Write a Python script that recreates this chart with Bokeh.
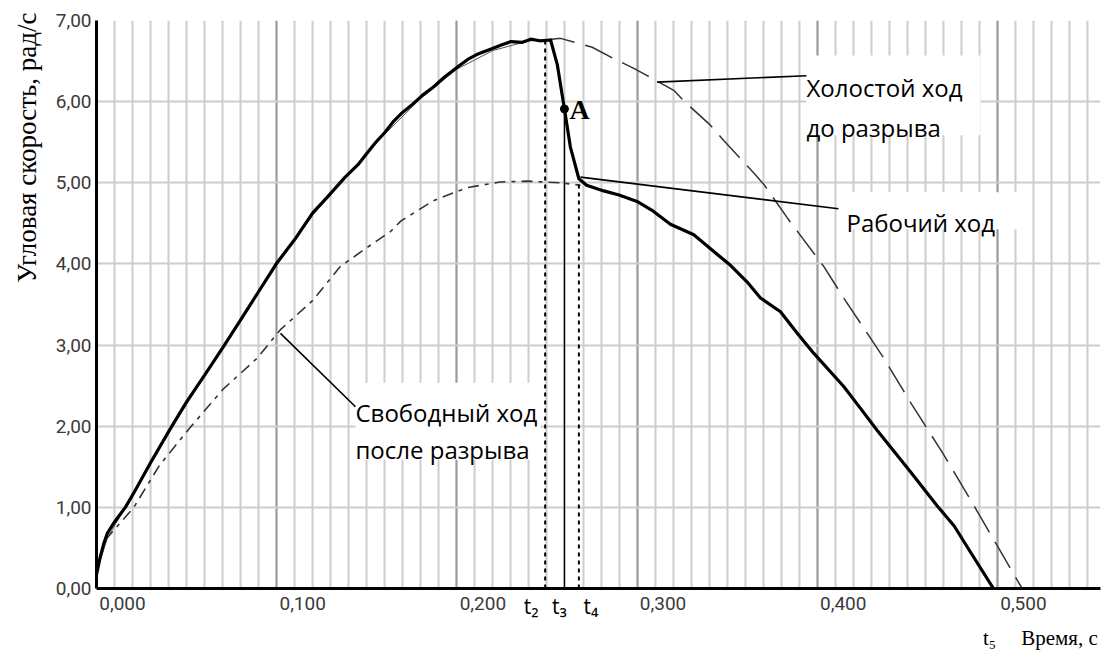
from bokeh.plotting import figure
from bokeh.models import FixedTicker, Label, BoxAnnotation, Range1d, LinearAxis, Title
from bokeh.embed import file_html
from bokeh.resources import INLINE

# ---------------- data ----------------
# Рабочий ход (working stroke), time s -> angular velocity rad/s
work_t = [0.000, 0.002, 0.004, 0.006, 0.010, 0.016, 0.021, 0.030, 0.041, 0.050,
          0.060, 0.071, 0.080, 0.090, 0.100, 0.110, 0.120, 0.128, 0.138, 0.145,
          0.150, 0.155, 0.160, 0.165, 0.169, 0.175, 0.181, 0.187, 0.193, 0.200,
          0.206, 0.211, 0.219, 0.225, 0.230, 0.236, 0.241, 0.246, 0.252, 0.2557,
          0.2597, 0.263, 0.2677, 0.272, 0.2815, 0.290, 0.300, 0.309, 0.3185, 0.3315,
          0.3444, 0.352, 0.361, 0.3685, 0.3796, 0.3888, 0.398, 0.4147, 0.424, 0.4332,
          0.443, 0.4517, 0.4665, 0.476, 0.485, 0.4978]
work_w = [0.17, 0.38, 0.55, 0.68, 0.82, 1.00, 1.19, 1.55, 1.97, 2.30,
          2.63, 3.00, 3.31, 3.66, 4.01, 4.30, 4.63, 4.82, 5.07, 5.22,
          5.36, 5.50, 5.62, 5.76, 5.85, 5.96, 6.08, 6.18, 6.30, 6.42,
          6.52, 6.58, 6.65, 6.70, 6.74, 6.73, 6.77, 6.75, 6.76, 6.46,
          5.91, 5.44, 5.05, 4.97, 4.90, 4.85, 4.77, 4.65, 4.49, 4.36,
          4.12, 3.98, 3.78, 3.58, 3.41, 3.15, 2.90, 2.49, 2.22, 1.95,
          1.68, 1.44, 1.02, 0.77, 0.45, 0.00]

# Холостой ход до разрыва (idle run)
idle_t = [0.000, 0.006, 0.020, 0.040, 0.060, 0.080, 0.100, 0.120, 0.140, 0.160,
          0.180, 0.200, 0.220, 0.240, 0.249, 0.2575, 0.2751, 0.2871, 0.2982, 0.3056,
          0.3204, 0.3259, 0.3407, 0.3481, 0.3648, 0.3704, 0.3833, 0.3897, 0.4036, 0.4147,
          0.4369, 0.4527, 0.4693, 0.4841, 0.4998, 0.5137]
idle_w = [0.20, 0.62, 1.15, 1.92, 2.62, 3.30, 3.98, 4.60, 5.12, 5.60,
          6.04, 6.40, 6.63, 6.75, 6.76, 6.78, 6.67, 6.53, 6.41, 6.32,
          6.14, 6.01, 5.71, 5.52, 5.12, 4.98, 4.57, 4.38, 3.97, 3.58,
          2.84, 2.26, 1.68, 1.13, 0.53, 0.00]

# Свободный ход после разрыва (free run)
free_t = [0.005, 0.0207, 0.035, 0.0522, 0.070, 0.0892, 0.1021, 0.120, 0.1354, 0.150,
          0.1632, 0.169, 0.187, 0.2057, 0.224, 0.239, 0.2575, 0.2686]
free_w = [0.60, 1.00, 1.52, 1.99, 2.45, 2.84, 3.19, 3.55, 3.97, 4.20,
          4.40, 4.53, 4.78, 4.94, 5.01, 5.02, 5.00, 4.97]

# characteristic instants
t_names = ["t₂", "t₃", "t₄", "t₅"]
t_values = [0.249, 0.2597, 0.2677, 0.4978]
t_tops = [6.76, 5.91, 5.00, 0.0]
point_A = (0.2597, 5.91)

x_ticks = [0.0, 0.1, 0.2, 0.3, 0.4, 0.5]
x_tick_labels = ["0,000", "0,100", "0,200", "0,300", "0,400", "0,500"]
y_ticks = [0, 1, 2, 3, 4, 5, 6, 7]
y_tick_labels = ["0,00", "1,00", "2,00", "3,00", "4,00", "5,00", "6,00", "7,00"]
x_minor = [round(0.01 * i, 2) for i in range(0, 56)]
x_title = "Время, с"
y_title = "Угловая скорость, рад/с"

# ---------------- layout helpers (pixels -> data) ----------------
PX_X = 1802.0   # pixels per 1 s
PX_Y = 81.286   # pixels per 1 rad/s
def dx(px):
    return px / PX_X
def dy(px):
    return px / PX_Y

X_END = 0.5572
p = figure(width=1104, height=652, x_range=Range1d(0, X_END), y_range=Range1d(0, 7),
           output_backend="svg", toolbar_location=None, title=None,
           min_border_left=96, min_border_right=4, min_border_top=20, min_border_bottom=63)
p.outline_line_color = None
p.background_fill_color = "white"
p.border_fill_color = "white"

# grid (at the true tick values)
p.xgrid.ticker = FixedTicker(ticks=x_ticks, minor_ticks=x_minor)
p.xgrid.grid_line_color = "#9c9c9c"
p.xgrid.grid_line_width = 2
p.xgrid.minor_grid_line_color = "#cdcdcd"
p.xgrid.minor_grid_line_width = 2
p.ygrid.ticker = FixedTicker(ticks=y_ticks)
p.ygrid.grid_line_color = "#cdcdcd"
p.ygrid.grid_line_width = 2

def style_axis(ax, font="Roboto", size="19px", color="#3a3a3a", standoff=5, line=True):
    ax.axis_line_color = "black" if line else None
    ax.axis_line_width = 3
    ax.major_tick_in = 0
    ax.major_tick_out = 0
    ax.minor_tick_in = 0
    ax.minor_tick_out = 0
    ax.major_label_text_font = font
    ax.major_label_text_font_size = size
    ax.major_label_text_color = color
    ax.major_label_standoff = standoff

# axis line + t2..t4 labels (first row, sans, black)
xa = p.xaxis[0]
t_label_pos = [t_values[0] + dx(-14), t_values[1] + dx(-5), t_values[2] + dx(12)]
style_axis(xa, font="Open Sans", size="21px", color="black", standoff=3, line=True)
xa.ticker = FixedTicker(ticks=t_label_pos)
xa.major_label_overrides = dict(zip(t_label_pos, t_names[:3]))

# numeric labels of the time axis: just right of their grid lines, same first row
lab_shift = dx(26)
xn_pos = [x + lab_shift for x in x_ticks]
xn = LinearAxis(ticker=FixedTicker(ticks=xn_pos),
                major_label_overrides=dict(zip(xn_pos, x_tick_labels)))
style_axis(xn, standoff=-26, line=False)

# second row under the x axis: t5 and the axis title
xb_pos = [t_values[3] + dx(-4), X_END - dx(41)]
xb_txt = [t_names[3], x_title]
xb = LinearAxis(ticker=FixedTicker(ticks=xb_pos), major_label_overrides=dict(zip(xb_pos, xb_txt)))
style_axis(xb, font="Liberation Serif", size="21px", color="black", standoff=3, line=False)
p.below = [xa, xn, xb]

# y axis
style_axis(p.yaxis[0], standoff=5)
p.yaxis.ticker = FixedTicker(ticks=y_ticks)
p.yaxis.major_label_overrides = dict(zip(y_ticks, y_tick_labels))
p.add_layout(Title(text=y_title, align="right", vertical_align="top", text_font="Liberation Serif",
                   text_font_size="27px", text_font_style="normal", text_color="black",
                   standoff=18, offset=-8), "left")

# white boxes behind annotation texts
boxes = [(dx(806 - 96), dx(980 - 96), dy(589 - 55), dy(589 - 135)),
         (dx(838 - 96), dx(1020 - 96), dy(589 - 192), dy(589 - 229)),
         (dx(355 - 96), dx(540 - 96), dy(589 - 383), dy(589 - 460))]
for l, r, t, b in boxes:
    p.add_layout(BoxAnnotation(left=l, right=r, top=t, bottom=b, fill_color="white",
                               fill_alpha=1.0, line_color=None, level="underlay"))

# idle curve: solid thin before t2, dashed after
t2 = t_values[0]
pre = [i for i, t in enumerate(idle_t) if t <= t2]
post = [i for i, t in enumerate(idle_t) if t >= t2]
p.line([idle_t[i] for i in pre], [idle_w[i] for i in pre], line_color="#555555", line_width=1)
p.line([idle_t[i] for i in post], [idle_w[i] for i in post], line_color="#333333",
       line_width=1.5, line_dash="30 11")

# free run curve
p.line(free_t, free_w, line_color="#333333", line_width=1.6, line_dash="11 6 4 6")

# working stroke
p.line(work_t, work_w, line_color="black", line_width=3.2, line_join="round")

# vertical instants t2 (dotted), t3 (solid), t4 (dotted)
p.segment(x0=[t_values[0]], y0=[0], x1=[t_values[0]], y1=[t_tops[0]],
          line_color="black", line_width=2, line_dash="4 4")
p.segment(x0=[t_values[1]], y0=[0], x1=[t_values[1]], y1=[t_tops[1]],
          line_color="black", line_width=1.4)
p.segment(x0=[t_values[2]], y0=[0], x1=[t_values[2]], y1=[t_tops[2]],
          line_color="black", line_width=2, line_dash="4 4")

# point A
p.scatter([point_A[0]], [point_A[1]], size=8, color="black")

# leader lines (annotation anchors)
leaders = [(0.3111, 6.24, dx(806 - 96), 6.32),
           (0.2686, 5.07, dx(838 - 96), 4.68),
           (0.1021, 3.145, dx(355 - 96), 2.24)]
p.segment(x0=[a[0] for a in leaders], y0=[a[1] for a in leaders],
          x1=[a[2] for a in leaders], y1=[a[3] for a in leaders],
          line_color="black", line_width=1.6)

def add_text(x, y, text, font="Open Sans", size="24px", style="normal", color="black",
             align="left", baseline="alphabetic"):
    p.add_layout(Label(x=x, y=y, text=text, text_font=font, text_font_size=size,
                       text_font_style=style, text_color=color, text_align=align,
                       text_baseline=baseline))

# annotation texts
add_text(dx(806 - 96), dy(589 - 87), "Холостой ход")
add_text(dx(806 - 96), dy(589 - 127), "до разрыва")
add_text(dx(846 - 96), dy(589 - 222), "Рабочий ход")
add_text(dx(355 - 96), dy(589 - 413), "Свободный ход")
add_text(dx(355 - 96), dy(589 - 450), "после разрыва")
add_text(point_A[0] + dx(5), point_A[1] + dy(-1), "A", font="Liberation Serif",
         size="28px", style="bold")

open("out.html", "w").write(file_html(p, INLINE))
